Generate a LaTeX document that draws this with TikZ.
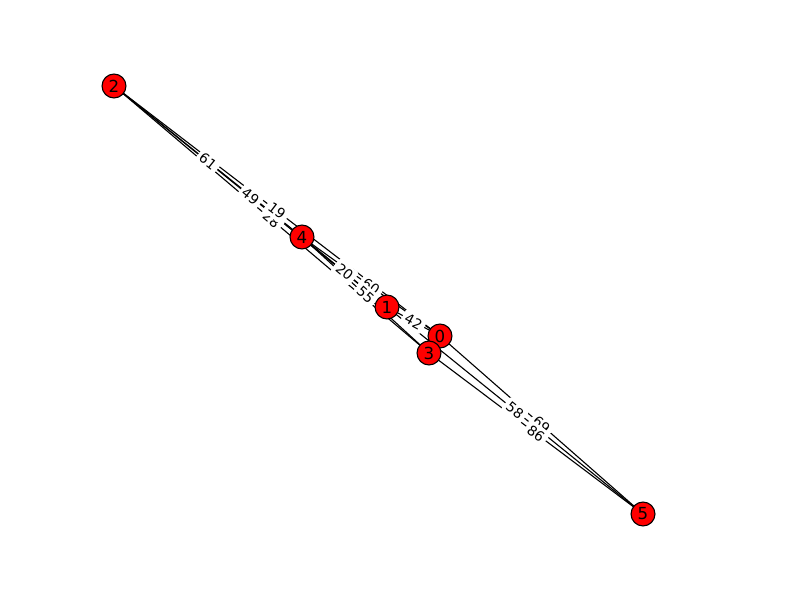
\documentclass[tikz,border=0pt]{standalone}
\usepackage{fontspec}
\setmainfont{DejaVu Sans}
\begin{document}
\begin{tikzpicture}[x=0.01in,y=-0.01in,
  vtx/.style={circle,draw=black,fill=red,line width=0.8pt,minimum size=17.3pt,inner sep=0pt,font=\fontsize{12}{12}\selectfont},
  edg/.style={draw=black,line width=0.8pt},
  elab/.style={sloped,pos=0.5,fill=white,rounded corners=2pt,inner sep=2.4pt,font=\fontsize{10}{10}\selectfont}]
\useasboundingbox (0,0) rectangle (800,600);
% node positions
\coordinate (p0) at (440,336);
\coordinate (p1) at (387,307);
\coordinate (p2) at (114,86);
\coordinate (p3) at (429,353);
\coordinate (p4) at (302,237);
\coordinate (p5) at (643,514);
% edges
\foreach \a/\b in {p2/p4,p2/p1,p2/p3,p2/p0,p4/p1,p4/p0,p4/p3,p1/p0,p1/p5,p0/p5,p3/p5}
  \draw[edg] (\a) -- (\b);
% edge labels
\path (p2) -- node[elab] {61} (p4);
\path (p2) -- node[elab] {49} (p1);
\path (p2) -- node[elab] {28} (p3);
\path (p2) -- node[elab] {19} (p0);
\path (p4) -- node[elab] {20} (p1);
\path (p4) -- node[elab] {60} (p0);
\path (p4) -- node[elab] {55} (p3);
\path (p1) -- node[elab] {42} (p0);
\path (p1) -- node[elab] {58} (p5);
\path (p0) -- node[elab] {69} (p5);
\path (p3) -- node[elab] {86} (p5);
% nodes
\node[vtx] (n0) at (p0) {0};
\node[vtx] (n1) at (p1) {1};
\node[vtx] (n2) at (p2) {2};
\node[vtx] (n3) at (p3) {3};
\node[vtx] (n4) at (p4) {4};
\node[vtx] (n5) at (p5) {5};
\end{tikzpicture}
\end{document}
